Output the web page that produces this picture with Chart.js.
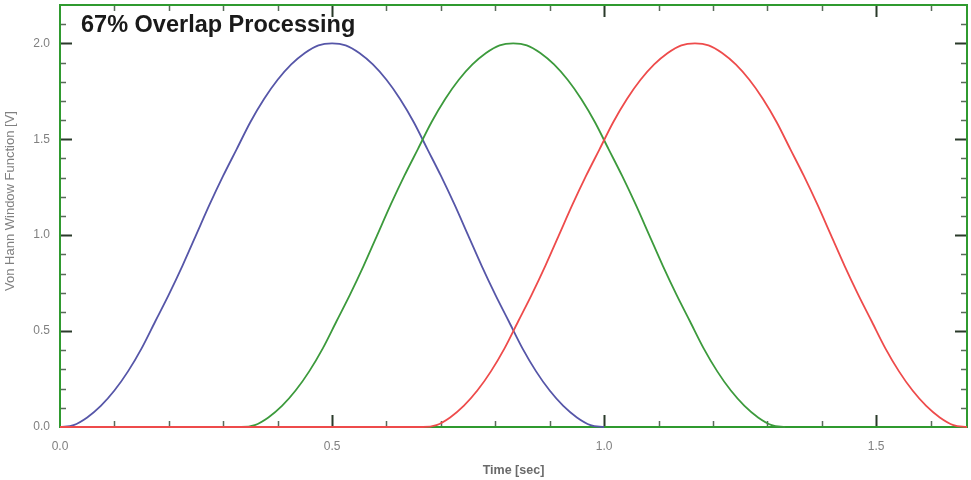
<!DOCTYPE html>
<html><head><meta charset="utf-8">
<script src="https://cdn.jsdelivr.net/npm/chart.js@4/dist/chart.umd.min.js"></script>
<style>html,body{margin:0;padding:0;background:#fff}#wrap{width:971px;height:480px}</style>
</head><body><div id="wrap"><canvas id="c" width="971" height="480"></canvas></div>
<script>
const titleText = "67% Overlap Processing";
const xAxisTitle = "Time [sec]";
const yAxisTitle = "Von Hann Window Function [V]";
const seriesNames = ["Window 1", "Window 2", "Window 3"];
// time within each window (sec)
const windowOffsets = [0,0.025,0.05,0.075,0.1,0.125,0.15,0.175,0.2,0.225,0.25,0.275,0.3,0.325,0.35,0.375,0.4,0.425,0.45,0.475,0.5,
  0.525,0.55,0.575,0.6,0.625,0.65,0.675,0.7,0.725,0.75,0.775,0.8,0.825,0.85,0.875,0.9,0.925,0.95,0.975,1.0];
const windowStarts = [0, 0.333, 0.667];
const blueValues  = [0,0.01,0.05,0.11,0.19,0.29,0.41,0.55,0.69,0.84,1.0,1.16,1.31,1.45,1.59,1.71,1.81,1.89,1.95,1.99,2.0,
  1.99,1.95,1.89,1.81,1.71,1.59,1.45,1.31,1.16,1.0,0.84,0.69,0.55,0.41,0.29,0.19,0.11,0.05,0.01,0];
const greenValues = [0,0.01,0.05,0.11,0.19,0.29,0.41,0.55,0.69,0.84,1.0,1.16,1.31,1.45,1.59,1.71,1.81,1.89,1.95,1.99,2.0,
  1.99,1.95,1.89,1.81,1.71,1.59,1.45,1.31,1.16,1.0,0.84,0.69,0.55,0.41,0.29,0.19,0.11,0.05,0.01,0];
const redValues   = [0,0.01,0.05,0.11,0.19,0.29,0.41,0.55,0.69,0.84,1.0,1.16,1.31,1.45,1.59,1.71,1.81,1.89,1.95,1.99,2.0,
  1.99,1.95,1.89,1.81,1.71,1.59,1.45,1.31,1.16,1.0,0.84,0.69,0.55,0.41,0.29,0.19,0.11,0.05,0.01,0];
const xRange = [0, 1.667];
const yRange = [0, 2.2];
const majorStep = 0.5;
const minorStep = 0.1;

const seriesColors = ["#5656a8", "#3c9a3c", "#ee4b4b"];
const frameColor = "#2f9a2f";
const FONT = "'Liberation Sans', Arial, sans-serif";

function buildPoints(start, values, leadZero) {
  const pts = [];
  if (leadZero && start > 0) pts.push({x: 0, y: 0});
  windowOffsets.forEach((t, i) => pts.push({x: +(start + t).toFixed(4), y: values[i]}));
  return pts;
}

const framePlugin = {
  id: 'frame',
  beforeDatasetsDraw(chart) {
    const {ctx, chartArea: a, scales: {x, y}} = chart;
    ctx.save();
    const drawXTicks = (v, len, col, w) => {
      const px = Math.round(x.getPixelForValue(v)) + 0.5;
      ctx.strokeStyle = col; ctx.lineWidth = w;
      ctx.beginPath(); ctx.moveTo(px, a.bottom); ctx.lineTo(px, a.bottom - len);
      ctx.moveTo(px, a.top); ctx.lineTo(px, a.top + len); ctx.stroke();
    };
    const drawYTicks = (v, len, col, w) => {
      const py = Math.round(y.getPixelForValue(v)) + 0.5;
      ctx.strokeStyle = col; ctx.lineWidth = w;
      ctx.beginPath(); ctx.moveTo(a.left, py); ctx.lineTo(a.left + len, py);
      ctx.moveTo(a.right, py); ctx.lineTo(a.right - len, py); ctx.stroke();
    };
    for (let i = 1; i * minorStep < xRange[1] - 0.01; i++) {
      const v = i * minorStep;
      if (i % 5 === 0) drawXTicks(v, 12, "#2a3a2a", 2);
      else drawXTicks(v, 6, "#5a6a5a", 1.5);
    }
    for (let i = 1; i * minorStep < yRange[1] - 0.01; i++) {
      const v = i * minorStep;
      if (i % 5 === 0) drawYTicks(v, 12, "#2a3a2a", 2);
      else drawYTicks(v, 6, "#5a6a5a", 1.5);
    }
    ctx.strokeStyle = frameColor; ctx.lineWidth = 2;
    ctx.strokeRect(a.left, a.top, a.right - a.left, a.bottom - a.top);
    // y axis title
    ctx.fillStyle = "#808080";
    ctx.font = "13px " + FONT;
    ctx.textAlign = "center"; ctx.textBaseline = "middle";
    ctx.translate(10, 201);
    ctx.rotate(-Math.PI / 2);
    ctx.fillText(yAxisTitle, 0, 0);
    ctx.restore();
  },
  afterDatasetsDraw(chart) {
    const {ctx, chartArea: a} = chart;
    ctx.save();
    ctx.fillStyle = "#1a1a1a";
    ctx.font = "bold 23.5px " + FONT;
    ctx.textBaseline = "alphabetic";
    ctx.textAlign = "left";
    ctx.fillText(titleText, a.left + 21, a.top + 27);
    ctx.restore();
  }
};

new Chart(document.getElementById('c'), {
  type: 'line',
  data: {
    datasets: [
      {label: seriesNames[2], data: buildPoints(windowStarts[2], redValues, true), borderColor: seriesColors[2], order: 0},
      {label: seriesNames[1], data: buildPoints(windowStarts[1], greenValues, true), borderColor: seriesColors[1], order: 1},
      {label: seriesNames[0], data: buildPoints(windowStarts[0], blueValues, false), borderColor: seriesColors[0], order: 2}
    ].map(d => Object.assign(d, {borderWidth: 1.8, pointRadius: 0, fill: false, cubicInterpolationMode: 'monotone', clip: 4}))
  },
  options: {
    responsive: false,
    animation: false,
    layout: {padding: {left: 0, right: 4, top: 5, bottom: 0}},
    plugins: {legend: {display: false}, tooltip: {enabled: false}, title: {display: false}},
    scales: {
      x: {
        type: 'linear', min: xRange[0], max: xRange[1],
        grid: {display: false, drawTicks: false},
        border: {display: false},
        ticks: {stepSize: majorStep, includeBounds: false, padding: 12, color: "#808080",
          font: {family: FONT, size: 12},
          callback: v => v.toFixed(1)},
        title: {display: true, text: xAxisTitle, color: "#6a6a6a",
          font: {family: FONT, size: 12.5, weight: 'bold'},
          padding: {top: 0, bottom: 2}},
        afterFit: s => { s.height = 53; s.paddingLeft = 0; s.paddingRight = 0; }
      },
      y: {
        type: 'linear', min: yRange[0], max: yRange[1],
        grid: {display: false, drawTicks: false},
        border: {display: false},
        ticks: {stepSize: majorStep, includeBounds: false, padding: 10, color: "#808080",
          font: {family: FONT, size: 12},
          callback: v => v.toFixed(1)},
        title: {display: false, text: yAxisTitle},
        afterFit: s => { s.width = 60; s.paddingTop = 0; s.paddingBottom = 0; }
      }
    }
  },
  plugins: [framePlugin]
});
</script></body></html>
